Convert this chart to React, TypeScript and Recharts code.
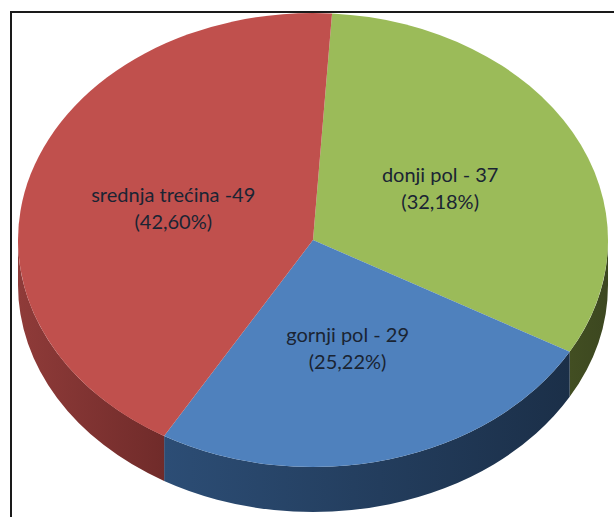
import React from "react";
import { PieChart, Pie, Cell } from "recharts";

const names = ["donji pol - 37", "gornji pol - 29", "srednja trećina -49"];
const percents = ["(32,18%)", "(25,22%)", "(42,60%)"];
const values = [37, 29, 49];
const topColors = ["#9BBB59", "#4F81BD", "#C0504D"];
const wallStart = ["#424E22", "#2C4D75", "#702B2A"];
const wallEnd = ["#3C4720", "#1B2F48", "#8F3B39"];

const rows = names.map((name, i) => ({ name, value: values[i], percent: percents[i] }));

const W = 614;
const H = 517;
const CX = 313;
const CY = 240;
const RY = 227;
const RX = 295;
const DEPTH = 45;
const RAD = Math.PI / 180;

const pt = (a: number, dy = 0) => [CX + RX * Math.cos(a * RAD), CY - RY * Math.sin(a * RAD) + dy];

function EllipticSlice(props: any) {
  const { startAngle, endAngle, index } = props;
  const [sx, sy] = pt(startAngle);
  const [ex, ey] = pt(endAngle);
  const large = Math.abs(startAngle - endAngle) > 180 ? 1 : 0;
  const top = `M${CX},${CY}L${sx},${sy}A${RX},${RY} 0 ${large} 1 ${ex},${ey}Z`;
  const wa = Math.min(startAngle, 0);
  const wb = Math.max(endAngle, -180);
  let wall = null;
  if (wa > wb) {
    const [ax, ay] = pt(wa);
    const [bx, by] = pt(wb);
    const d = `M${ax},${ay}A${RX},${RY} 0 0 1 ${bx},${by}L${bx},${by + DEPTH}A${RX},${RY} 0 0 0 ${ax},${ay + DEPTH}Z`;
    const id = `wall-${index}`;
    wall = (
      <g>
        <defs>
          <linearGradient id={id} gradientUnits="userSpaceOnUse" x1={bx} y1="0" x2={ax} y2="0">
            <stop offset="0" stopColor={index === 2 ? wallEnd[index] : wallStart[index]} />
            <stop offset="1" stopColor={index === 2 ? wallStart[index] : wallEnd[index]} />
          </linearGradient>
        </defs>
        <path d={d} fill={`url(#${id})`} />
      </g>
    );
  }
  return (
    <g>
      {wall}
      <path d={top} fill={topColors[index]} />
    </g>
  );
}

function SliceLabel(props: any) {
  const { midAngle, index } = props;
  const nudge = index === 1 ? -3 : index === 2 ? -1.5 : 0;
  const x = CX + 0.49 * RX * Math.cos(midAngle * RAD) + nudge;
  const y = CY - 0.49 * RY * Math.sin(midAngle * RAD) + 2;
  return (
    <text x={x} y={y} textAnchor="middle" fontFamily="Lato, sans-serif" fontSize={20} fill="#1A2433">
      <tspan x={x} dy={-7}>{names[index]}</tspan>
      <tspan x={x} dy={27}>{percents[index]}</tspan>
    </text>
  );
}

export default function App() {
  return (
    <div style={{ position: "absolute", left: 0, top: 0, width: W, height: H, overflow: "hidden", background: "#fff" }}>
      <div
        style={{
          position: "absolute",
          left: 10,
          top: 11,
          width: W,
          height: H,
          borderLeft: "2px solid #1a1a1a",
          borderTop: "2px solid #1a1a1a",
        }}
      />
      <div style={{ position: "absolute", left: 0, top: 0 }}>
        <PieChart width={W} height={H} margin={{ top: 0, right: 0, bottom: 0, left: 0 }}>
          <Pie
            data={rows}
            dataKey="value"
            nameKey="name"
            cx={CX}
            cy={CY}
            innerRadius={0}
            outerRadius={RY}
            startAngle={86.3}
            endAngle={-273.7}
            paddingAngle={0}
            stroke="none"
            shape={EllipticSlice}
            label={SliceLabel}
            labelLine={false}
            isAnimationActive={false}
          >
            {rows.map((r, i) => (
              <Cell key={r.name} fill={topColors[i]} />
            ))}
          </Pie>
        </PieChart>
      </div>
    </div>
  );
}
